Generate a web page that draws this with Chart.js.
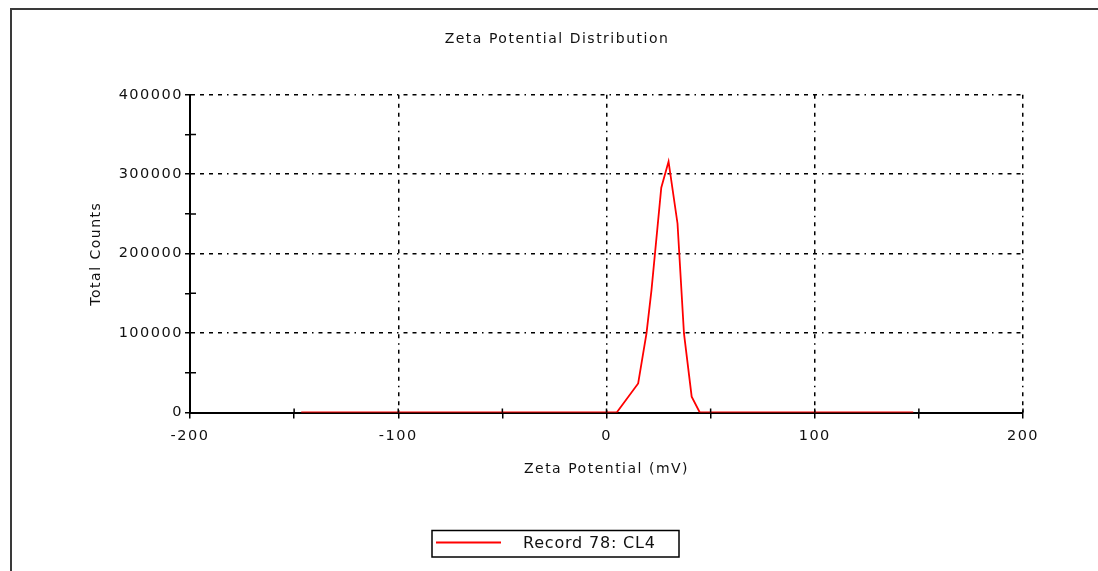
<!DOCTYPE html>
<html>
<head>
<meta charset="utf-8">
<script src="https://cdn.jsdelivr.net/npm/chart.js@4.4.1/dist/chart.umd.min.js"></script>
<style>
  html, body { margin: 0; padding: 0; background: #ffffff; }
  #wrap { width: 1098px; height: 571px; position: relative; }
</style>
</head>
<body>
<div id="wrap"><canvas id="zetaChart"></canvas></div>
<script>
// zeta potential (mV) and total counts
const zetaMv = [-146.6, 4.9, 15.2, 19.2, 21.6, 26.3, 29.8, 34.1, 37.2, 40.9, 44.8, 147.3];
const totalCounts = [0, 0, 36500, 99500, 154000, 283000, 316000, 238000, 99500, 20000, 0, 0];

const xTicks = [-200, -150, -100, -50, 0, 50, 100, 150, 200];
const yTicks = [0, 50000, 100000, 150000, 200000, 250000, 300000, 350000, 400000];

const recordLabel = 'Record 78: CL4';

const points = zetaMv.map(function (v, i) {
    return { x: v, y: totalCounts[i] };
});

const gridDash = [4, 5, 4, 5, 4, 5, 4, 5, 1.5, 5];

const spacing = {
    id: 'spacing',
    beforeUpdate(chart) { chart.ctx.letterSpacing = '1.5px'; },
    beforeDraw(chart) {
        const ctx = chart.ctx;
        ctx.letterSpacing = '1.5px';
        ctx.save();
        ctx.fillStyle = '#ffffff';
        ctx.fillRect(0, 0, chart.width, chart.height);
        // outer frame (left and top only)
        ctx.strokeStyle = '#3a3a3a';
        ctx.lineWidth = 2;
        ctx.beginPath();
        ctx.moveTo(chart.width, 9);
        ctx.lineTo(11, 9);
        ctx.lineTo(11, chart.height);
        ctx.stroke();
        ctx.restore();
    }
};

const innerTicks = {
    id: 'innerTicks',
    afterDraw(chart) {
        const ctx = chart.ctx;
        const x = chart.scales.x;
        const y = chart.scales.y;
        const area = chart.chartArea;
        ctx.save();
        ctx.strokeStyle = '#000000';
        ctx.lineWidth = 1.5;
        ctx.beginPath();
        xTicks.forEach(function (v) {
            const px = x.getPixelForValue(v);
            ctx.moveTo(px, area.bottom);
            ctx.lineTo(px, area.bottom - 4);
        });
        yTicks.forEach(function (v) {
            if (v % 100000 !== 0) {
                const py = y.getPixelForValue(v);
                ctx.moveTo(area.left, py);
                ctx.lineTo(area.left + 6, py);
            }
        });
        ctx.stroke();

        // legend box
        const ds = chart.data.datasets[0];
        ctx.lineWidth = 1.5;
        ctx.strokeStyle = '#000000';
        ctx.strokeRect(432, 530.5, 247, 26.5);
        ctx.strokeStyle = ds.borderColor;
        ctx.lineWidth = 2;
        ctx.beginPath();
        ctx.moveTo(436, 542.5);
        ctx.lineTo(501, 542.5);
        ctx.stroke();
        ctx.letterSpacing = '0.8px';
        ctx.fillStyle = '#111111';
        ctx.font = '16px "DejaVu Sans"';
        ctx.textBaseline = 'middle';
        ctx.textAlign = 'left';
        ctx.fillText(ds.label, 523, 544);
        ctx.restore();
    }
};

new Chart(document.getElementById('zetaChart'), {
    type: 'line',
    data: {
        datasets: [{
            label: recordLabel,
            data: points,
            borderColor: '#ff0000',
            borderWidth: 1.8,
            pointRadius: 0,
            tension: 0,
            fill: false
        }]
    },
    options: {
        responsive: true,
        maintainAspectRatio: false,
        animation: false,
        events: [],
        layout: {
            padding: { left: 16, right: 0, top: 0, bottom: 0 }
        },
        font: { family: '"DejaVu Sans"' },
        plugins: {
            legend: { display: false },
            tooltip: { enabled: false },
            title: {
                display: true,
                text: 'Zeta Potential Distribution',
                color: '#111111',
                font: { family: '"DejaVu Sans"', size: 14, weight: 'normal' },
                padding: { top: 31, bottom: 47 }
            }
        },
        scales: {
            x: {
                type: 'linear',
                min: -200,
                max: 200,
                z: 1,
                afterBuildTicks(scale) {
                    scale.ticks = xTicks.map(function (v) { return { value: v }; });
                },
                afterFit(scale) { scale.height = 158.5; },
                border: { display: true, color: '#000000', width: 2, dash: gridDash },
                grid: {
                    color: function (c) {
                        return c.tick && c.tick.value % 100 === 0 && c.tick.value !== -200 ? '#000000' : 'rgba(0,0,0,0)';
                    },
                    lineWidth: 1.5,
                    drawTicks: true,
                    tickLength: 6,
                    tickColor: '#000000',
                    tickWidth: 1.5
                },
                ticks: {
                    color: '#111111',
                    font: { family: '"DejaVu Sans"', size: 14.5 },
                    padding: 9,
                    maxRotation: 0,
                    autoSkip: false,
                    callback: function (v) { return v % 100 === 0 ? String(v) : ''; }
                },
                title: {
                    display: true,
                    text: 'Zeta Potential (mV)',
                    color: '#111111',
                    font: { family: '"DejaVu Sans"', size: 14 },
                    padding: { top: 0, bottom: 93 }
                }
            },
            y: {
                min: 0,
                max: 400000,
                afterBuildTicks(scale) {
                    scale.ticks = yTicks.map(function (v) { return { value: v }; });
                },
                afterFit(scale) { scale.width = 174; },
                border: { display: true, color: '#000000', width: 2, dash: gridDash },
                grid: {
                    color: function (c) {
                        return c.tick && c.tick.value % 100000 === 0 && c.tick.value !== 0 ? '#000000' : 'rgba(0,0,0,0)';
                    },
                    lineWidth: 1.5,
                    drawTicks: true,
                    tickLength: 5,
                    tickColor: '#000000',
                    tickWidth: 1.5
                },
                ticks: {
                    color: '#111111',
                    font: { family: '"DejaVu Sans"', size: 14.5 },
                    padding: 2,
                    autoSkip: false,
                    callback: function (v) { return v % 100000 === 0 ? String(v) : ''; }
                },
                title: {
                    display: true,
                    text: 'Total Counts',
                    color: '#111111',
                    font: { family: '"DejaVu Sans"', size: 14 },
                    padding: { top: 72, bottom: 0 }
                }
            },
            yRight: {
                type: 'linear',
                position: 'right',
                display: true,
                afterFit(scale) { scale.width = 75; },
                border: { display: false },
                grid: { display: false, drawTicks: false },
                ticks: { display: false }
            }
        }
    },
    plugins: [spacing, innerTicks]
});
</script>
</body>
</html>
